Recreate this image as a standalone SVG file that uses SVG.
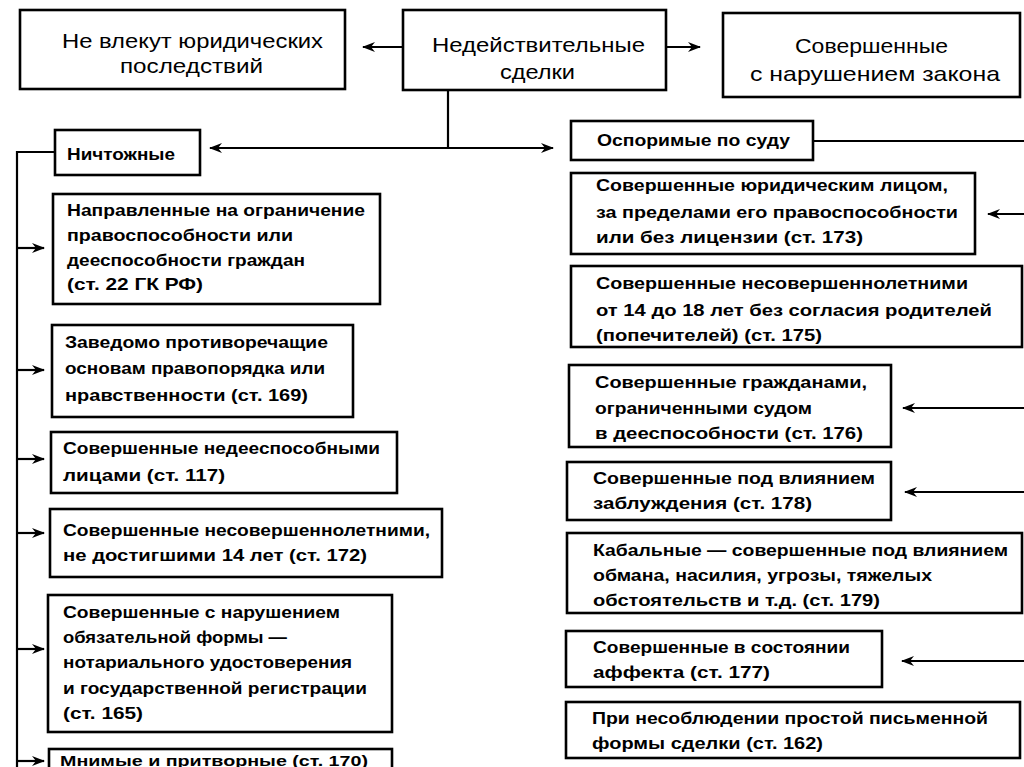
<svg xmlns="http://www.w3.org/2000/svg" width="1024" height="767" viewBox="0 0 1024 767">
<defs>
<marker id="ah" markerWidth="13" markerHeight="10" refX="12" refY="5" orient="auto" markerUnits="userSpaceOnUse"><path d="M0,0 L13,5 L0,10 L4,5 z" fill="#000"/></marker>
</defs>
<style>
.box{fill:#fff;stroke:#000;stroke-width:2.6}
.t{font-family:"Liberation Sans",Arial,sans-serif;font-size:17px;font-weight:bold;fill:#000}
.tt{font-family:"Liberation Sans",Arial,sans-serif;font-size:21px;fill:#000}
.c{fill:none;stroke:#000;stroke-width:2.2}
</style>
<rect width="1024" height="767" fill="#fff"/>
<g id="connectors">
<line class="c" x1="403" y1="47" x2="363" y2="47" marker-end="url(#ah)"/>
<line class="c" x1="666" y1="47" x2="700" y2="47" marker-end="url(#ah)"/>
<line class="c" x1="448" y1="90" x2="448" y2="148"/>
<line class="c" x1="448" y1="148" x2="210" y2="148" marker-end="url(#ah)"/>
<line class="c" x1="448" y1="148" x2="553" y2="148" marker-end="url(#ah)"/>
<polyline class="c" points="55,152 17,152 17,767"/>
<line class="c" x1="17" y1="248" x2="44" y2="248" marker-end="url(#ah)"/>
<line class="c" x1="17" y1="370" x2="44" y2="370" marker-end="url(#ah)"/>
<line class="c" x1="17" y1="459" x2="44" y2="459" marker-end="url(#ah)"/>
<line class="c" x1="17" y1="533" x2="44" y2="533" marker-end="url(#ah)"/>
<line class="c" x1="17" y1="649" x2="44" y2="649" marker-end="url(#ah)"/>
<line class="c" x1="17" y1="761" x2="44" y2="761" marker-end="url(#ah)"/>
<line class="c" x1="813" y1="141" x2="1024" y2="141"/>
<line class="c" x1="1024" y1="214" x2="988" y2="214" marker-end="url(#ah)"/>
<line class="c" x1="1024" y1="408" x2="903" y2="408" marker-end="url(#ah)"/>
<line class="c" x1="1024" y1="492" x2="905" y2="492" marker-end="url(#ah)"/>
<line class="c" x1="1024" y1="661" x2="902" y2="661" marker-end="url(#ah)"/>
</g>
<g id="n-noeffect">
<rect class="box" x="20" y="10" width="325" height="79"/>
<text class="tt" x="62" y="48" textLength="261" lengthAdjust="spacingAndGlyphs">Не влекут юридических</text>
<text class="tt" x="120" y="73" textLength="143" lengthAdjust="spacingAndGlyphs">последствий</text>
</g>
<g id="n-invalid">
<rect class="box" x="403" y="10" width="263" height="80"/>
<text class="tt" x="432" y="52" textLength="213" lengthAdjust="spacingAndGlyphs">Недействительные</text>
<text class="tt" x="500" y="79" textLength="75" lengthAdjust="spacingAndGlyphs">сделки</text>
</g>
<g id="n-law">
<rect class="box" x="723" y="13" width="297" height="84"/>
<text class="tt" x="795" y="53" textLength="153" lengthAdjust="spacingAndGlyphs">Совершенные</text>
<text class="tt" x="750" y="81" textLength="250" lengthAdjust="spacingAndGlyphs">с нарушением закона</text>
</g>
<g id="n-void">
<rect class="box" x="55" y="130" width="145" height="45"/>
<text class="t" x="67" y="160" textLength="108" lengthAdjust="spacingAndGlyphs">Ничтожные</text>
</g>
<g id="n-voidable">
<rect class="box" x="571" y="121" width="242" height="39"/>
<text class="t" x="597" y="146" textLength="193" lengthAdjust="spacingAndGlyphs">Оспоримые по суду</text>
</g>
<g id="n-22">
<rect class="box" x="53" y="194" width="327" height="110"/>
<text class="t" x="67" y="216" textLength="298" lengthAdjust="spacingAndGlyphs">Направленные на ограничение</text>
<text class="t" x="67" y="241" textLength="226" lengthAdjust="spacingAndGlyphs">правоспособности или</text>
<text class="t" x="67" y="266" textLength="238" lengthAdjust="spacingAndGlyphs">дееспособности граждан</text>
<text class="t" x="67" y="290" textLength="136" lengthAdjust="spacingAndGlyphs">(ст. 22 ГК РФ)</text>
</g>
<g id="n-169">
<rect class="box" x="52" y="325" width="301" height="92"/>
<text class="t" x="65" y="348" textLength="263" lengthAdjust="spacingAndGlyphs">Заведомо противоречащие</text>
<text class="t" x="65" y="374" textLength="260" lengthAdjust="spacingAndGlyphs">основам правопорядка или</text>
<text class="t" x="65" y="401" textLength="243" lengthAdjust="spacingAndGlyphs">нравственности (ст. 169)</text>
</g>
<g id="n-117">
<rect class="box" x="51" y="432" width="346" height="61"/>
<text class="t" x="63" y="454" textLength="317" lengthAdjust="spacingAndGlyphs">Совершенные недееспособными</text>
<text class="t" x="63" y="481" textLength="162" lengthAdjust="spacingAndGlyphs">лицами (ст. 117)</text>
</g>
<g id="n-172">
<rect class="box" x="50" y="509" width="392" height="68"/>
<text class="t" x="63" y="536" textLength="367" lengthAdjust="spacingAndGlyphs">Совершенные несовершеннолетними,</text>
<text class="t" x="63" y="561" textLength="304" lengthAdjust="spacingAndGlyphs">не достигшими 14 лет (ст. 172)</text>
</g>
<g id="n-165">
<rect class="box" x="48" y="595" width="344" height="137"/>
<text class="t" x="63" y="618" textLength="277" lengthAdjust="spacingAndGlyphs">Совершенные с нарушением</text>
<text class="t" x="63" y="643" textLength="224" lengthAdjust="spacingAndGlyphs">обязательной формы —</text>
<text class="t" x="63" y="668" textLength="289" lengthAdjust="spacingAndGlyphs">нотариального удостоверения</text>
<text class="t" x="63" y="694" textLength="304" lengthAdjust="spacingAndGlyphs">и государственной регистрации</text>
<text class="t" x="63" y="719" textLength="80" lengthAdjust="spacingAndGlyphs">(ст. 165)</text>
</g>
<g id="n-170">
<rect class="box" x="49" y="749" width="343" height="40"/>
<text class="t" x="60" y="766" style="font-size:15px" textLength="308" lengthAdjust="spacingAndGlyphs">Мнимые и притворные (ст. 170)</text>
</g>
<g id="n-173">
<rect class="box" x="571" y="173" width="404" height="81"/>
<text class="t" x="596" y="191" textLength="352" lengthAdjust="spacingAndGlyphs">Совершенные юридическим лицом,</text>
<text class="t" x="596" y="218" textLength="362" lengthAdjust="spacingAndGlyphs">за пределами его правоспособности</text>
<text class="t" x="596" y="243" textLength="267" lengthAdjust="spacingAndGlyphs">или без лицензии (ст. 173)</text>
</g>
<g id="n-175">
<rect class="box" x="571" y="266" width="451" height="81"/>
<text class="t" x="596" y="289" textLength="372" lengthAdjust="spacingAndGlyphs">Совершенные несовершеннолетними</text>
<text class="t" x="596" y="316" textLength="396" lengthAdjust="spacingAndGlyphs">от 14 до 18 лет без согласия родителей</text>
<text class="t" x="596" y="341" textLength="226" lengthAdjust="spacingAndGlyphs">(попечителей) (ст. 175)</text>
</g>
<g id="n-176">
<rect class="box" x="569" y="365" width="322" height="82"/>
<text class="t" x="595" y="388" textLength="272" lengthAdjust="spacingAndGlyphs">Совершенные гражданами,</text>
<text class="t" x="595" y="414" textLength="217" lengthAdjust="spacingAndGlyphs">ограниченными судом</text>
<text class="t" x="595" y="439" textLength="268" lengthAdjust="spacingAndGlyphs">в дееспособности (ст. 176)</text>
</g>
<g id="n-178">
<rect class="box" x="567" y="462" width="324" height="58"/>
<text class="t" x="593" y="484" textLength="282" lengthAdjust="spacingAndGlyphs">Совершенные под влиянием</text>
<text class="t" x="593" y="509" textLength="219" lengthAdjust="spacingAndGlyphs">заблуждения (ст. 178)</text>
</g>
<g id="n-179">
<rect class="box" x="567" y="533" width="455" height="80"/>
<text class="t" x="593" y="556" textLength="415" lengthAdjust="spacingAndGlyphs">Кабальные — совершенные под влиянием</text>
<text class="t" x="593" y="581" textLength="339" lengthAdjust="spacingAndGlyphs">обмана, насилия, угрозы, тяжелых</text>
<text class="t" x="593" y="606" textLength="287" lengthAdjust="spacingAndGlyphs">обстоятельств и т.д. (ст. 179)</text>
</g>
<g id="n-177">
<rect class="box" x="566" y="631" width="316" height="56"/>
<text class="t" x="593" y="653" textLength="257" lengthAdjust="spacingAndGlyphs">Совершенные в состоянии</text>
<text class="t" x="593" y="678" textLength="177" lengthAdjust="spacingAndGlyphs">аффекта (ст. 177)</text>
</g>
<g id="n-162">
<rect class="box" x="566" y="702" width="454" height="56"/>
<text class="t" x="592" y="724" textLength="396" lengthAdjust="spacingAndGlyphs">При несоблюдении простой письменной</text>
<text class="t" x="592" y="749" textLength="231" lengthAdjust="spacingAndGlyphs">формы сделки (ст. 162)</text>
</g>
</svg>
